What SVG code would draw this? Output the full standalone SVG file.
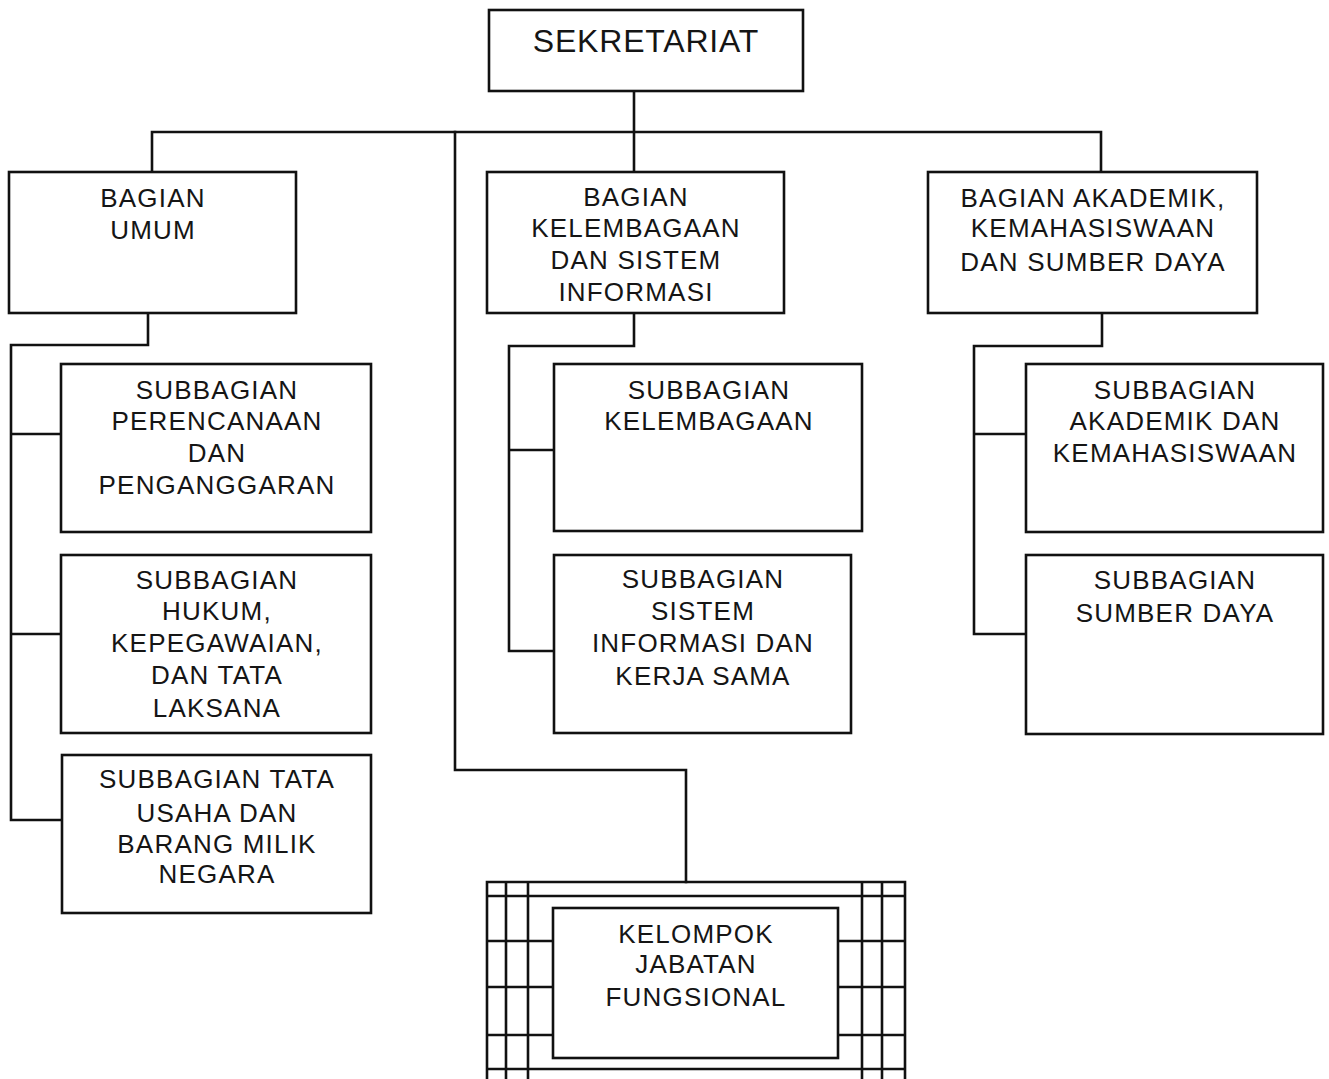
<svg xmlns="http://www.w3.org/2000/svg" width="1329" height="1079" viewBox="0 0 1329 1079">
<style>
.box{fill:#fff;stroke:#111;stroke-width:2.6}
.ln{fill:none;stroke:#111;stroke-width:2.6;stroke-linecap:square}
text{font-family:"Liberation Sans",Arial,sans-serif;font-size:26px;fill:#151515;text-anchor:middle;letter-spacing:1.2px}
.big{font-size:32px;letter-spacing:0.8px}
</style>
<rect width="1329" height="1079" fill="#fff"/>
<g id="connectors">
<path class="ln" d="M152,132 H1101 M634,91 V172 M152,132 V172 M1101,132 V172"/>
<path class="ln" d="M455,132 V770 H686 V882"/>
<path class="ln" d="M148,313 V345 H11 V820 H62 M11,434 H61 M11,634 H61"/>
<path class="ln" d="M634,313 V346 H509 V651 H554 M509,450 H554"/>
<path class="ln" d="M1102,313 V346 H974 V634 H1026 M974,434 H1026"/>
</g>
<g id="sekretariat"><rect class="box" x="489" y="10" width="314" height="81"/><text class="big" x="646" y="52">SEKRETARIAT</text></g>
<g id="bagian-umum"><rect class="box" x="9" y="172" width="287" height="141"/><text x="153" y="207">BAGIAN</text><text x="153" y="239">UMUM</text></g>
<g id="bagian-kelembagaan"><rect class="box" x="487" y="172" width="297" height="141"/><text x="636" y="206">BAGIAN</text><text x="636" y="237">KELEMBAGAAN</text><text x="636" y="269">DAN SISTEM</text><text x="636" y="301">INFORMASI</text></g>
<g id="bagian-akademik"><rect class="box" x="928" y="172" width="329" height="141"/><text x="1093" y="207">BAGIAN AKADEMIK,</text><text x="1093" y="237">KEMAHASISWAAN</text><text x="1093" y="271">DAN SUMBER DAYA</text></g>
<g id="sub-perencanaan"><rect class="box" x="61" y="364" width="310" height="168"/><text x="217" y="399">SUBBAGIAN</text><text x="217" y="430">PERENCANAAN</text><text x="217" y="462">DAN</text><text x="217" y="494">PENGANGGARAN</text></g>
<g id="sub-hukum"><rect class="box" x="61" y="555" width="310" height="178"/><text x="217" y="589">SUBBAGIAN</text><text x="217" y="620">HUKUM,</text><text x="217" y="652">KEPEGAWAIAN,</text><text x="217" y="684">DAN TATA</text><text x="217" y="717">LAKSANA</text></g>
<g id="sub-tata-usaha"><rect class="box" x="62" y="755" width="309" height="158"/><text x="217" y="788">SUBBAGIAN TATA</text><text x="217" y="822">USAHA DAN</text><text x="217" y="853">BARANG MILIK</text><text x="217" y="883">NEGARA</text></g>
<g id="sub-kelembagaan"><rect class="box" x="554" y="364" width="308" height="167"/><text x="709" y="399">SUBBAGIAN</text><text x="709" y="430">KELEMBAGAAN</text></g>
<g id="sub-sistem-informasi"><rect class="box" x="554" y="555" width="297" height="178"/><text x="703" y="588">SUBBAGIAN</text><text x="703" y="620">SISTEM</text><text x="703" y="652">INFORMASI DAN</text><text x="703" y="685">KERJA SAMA</text></g>
<g id="sub-akademik"><rect class="box" x="1026" y="364" width="297" height="168"/><text x="1175" y="399">SUBBAGIAN</text><text x="1175" y="430">AKADEMIK DAN</text><text x="1175" y="462">KEMAHASISWAAN</text></g>
<g id="sub-sumber-daya"><rect class="box" x="1026" y="555" width="297" height="179"/><text x="1175" y="589">SUBBAGIAN</text><text x="1175" y="622">SUMBER DAYA</text></g>
<g id="kelompok-jabatan-fungsional">
<path class="ln" d="M487,882 H905 M487,896 H905 M487,1069 H905 M487,882 V1085 M506,882 V1085 M528,882 V1085 M862,882 V1085 M882,882 V1085 M905,882 V1085 M487,941 H553 M487,987 H553 M487,1035 H553 M840,941 H905 M840,987 H905 M840,1035 H905"/>
<rect class="box" x="553" y="908" width="285" height="150"/>
<text x="696" y="943">KELOMPOK</text><text x="696" y="973">JABATAN</text><text x="696" y="1006">FUNGSIONAL</text>
</g>
</svg>
